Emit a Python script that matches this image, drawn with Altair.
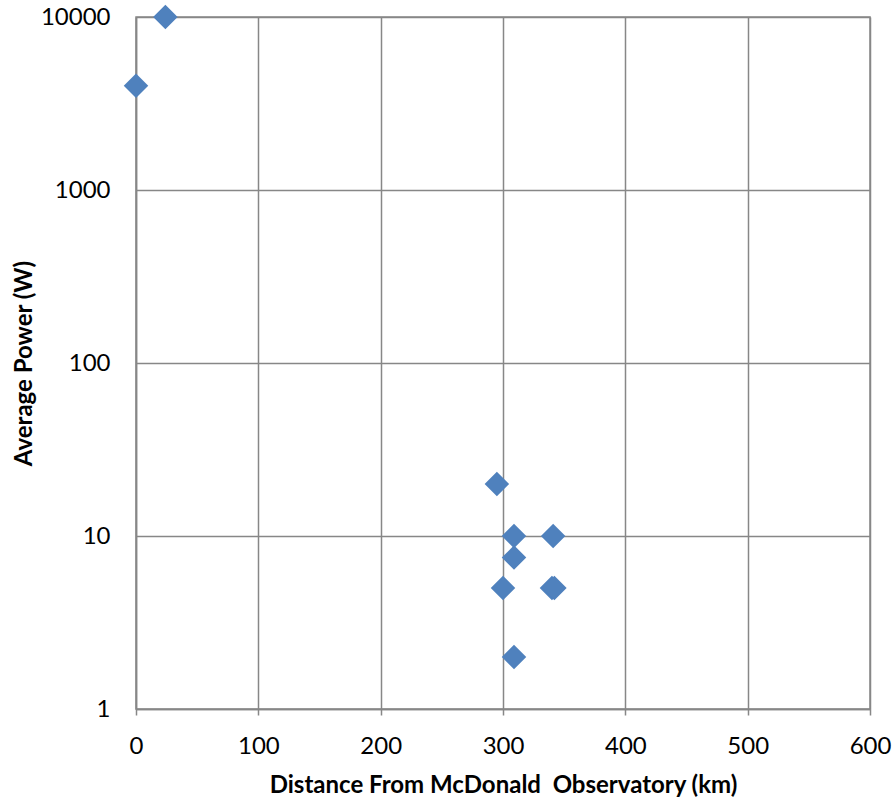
import altair as alt
import pandas as pd

distance_km = [0, 24, 295, 309, 341, 309, 300, 340, 342, 309]
avg_power_w = [4000, 10000, 20, 10, 10, 7.5, 5, 5, 5, 2]

df = pd.DataFrame({"distance": distance_km, "power": avg_power_w})

grid_color = "#878787"

chart = alt.Chart(df).mark_point(
    shape="diamond", filled=True, size=600, color="#4F81BD", opacity=1
).encode(
    x=alt.X("distance:Q",
            scale=alt.Scale(domain=[0, 600], nice=False, zero=False),
            axis=alt.Axis(values=[0, 100, 200, 300, 400, 500, 600],
                          title="Distance From McDonald\u00a0 Observatory (km)",
                          titleFontSize=24, titleFontWeight="bold", titlePadding=15,
                          labelFontSize=24, labelPadding=19, labelFlush=False,
                          tickSize=6, tickColor=grid_color, domainColor=grid_color,
                          gridColor=grid_color, gridWidth=1.5, domainWidth=1.5, tickWidth=1.5)),
    y=alt.Y("power:Q",
            scale=alt.Scale(type="log", domain=[1, 10000], nice=False),
            axis=alt.Axis(values=[1, 10, 100, 1000, 10000], format="d",
                          title="Average Power (W)",
                          titleFontSize=24, titleFontWeight="bold", titlePadding=4,
                          labelFontSize=24, labelPadding=26, labelFlush=False,
                          ticks=False, domainColor=grid_color,
                          gridColor=grid_color, gridWidth=1.5, domainWidth=1.5)),
).properties(
    width=734, height=692,
    autosize=alt.AutoSizeParams(type="none"),
    padding={"left": 136, "top": 17, "right": 23, "bottom": 90},
).configure_view(
    stroke=grid_color, strokeWidth=1.5
).configure_axis(
    labelFont="Lato", titleFont="Lato", labelColor="#000000", titleColor="#000000"
)

chart.save("out.html", embed_options={"renderer": "svg", "actions": False})
